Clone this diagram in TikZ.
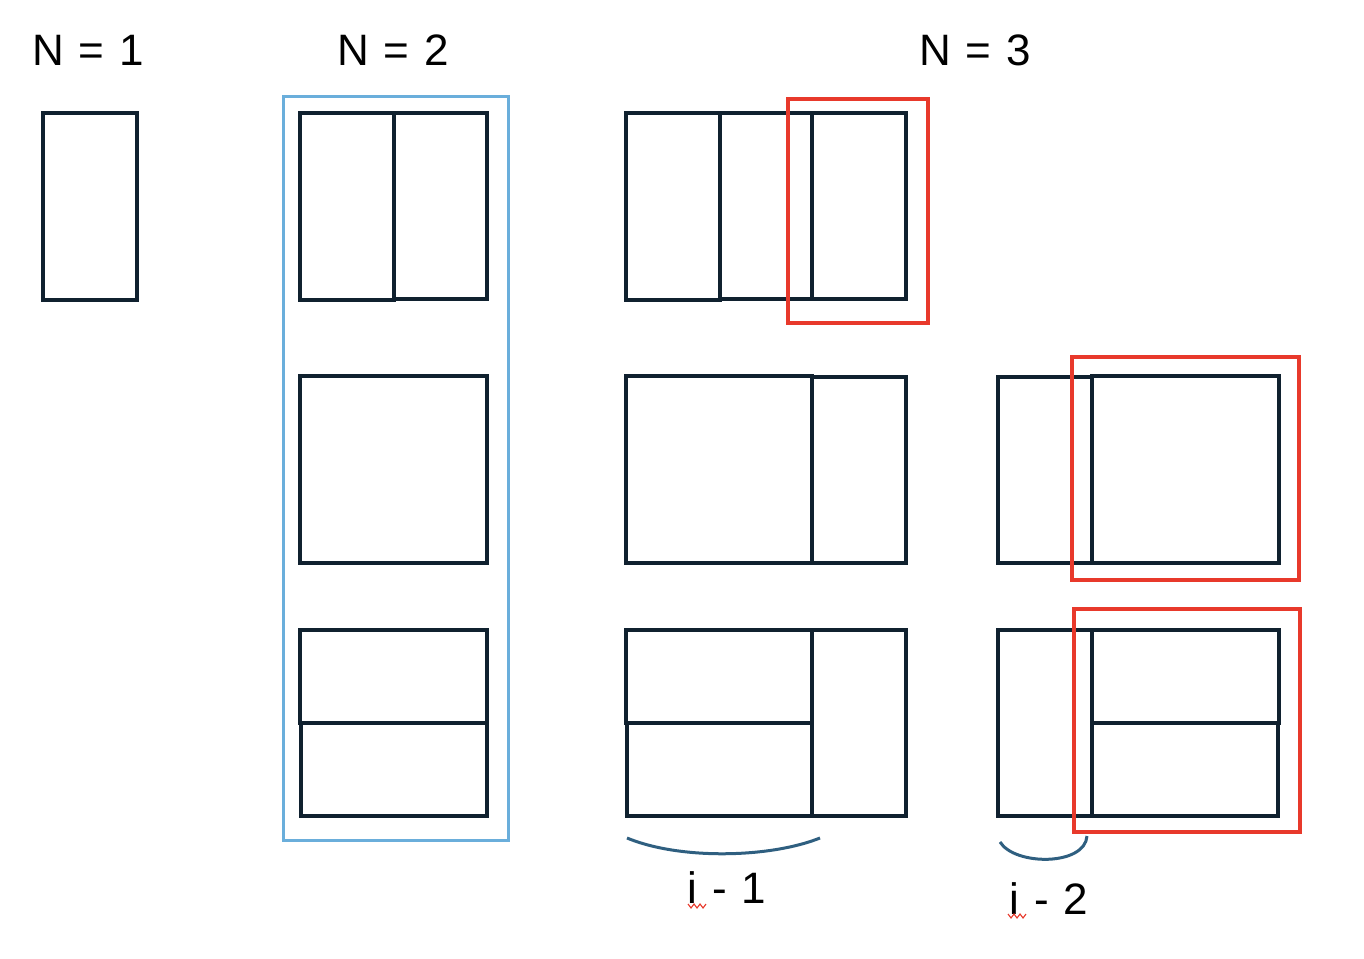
\documentclass[tikz,border=0pt]{standalone}
\usepackage{fontspec}
\setmainfont{Liberation Sans}
\newcommand{\labfont}{\fontsize{44}{48}\selectfont\spaceskip=15pt\relax}
\begin{document}
\begin{tikzpicture}[x=1pt,y=-1pt,
  cell/.style={draw=cellc,line width=3.1pt},
  redbox/.style={draw=redc,line width=3.2pt},
  bluebox/.style={draw=bluec,line width=3pt},
  brace/.style={draw=bracec,line width=3pt},
  lab/.style={font=\labfont,inner sep=0pt},
  squig/.style={draw=redc,line width=1.1pt}]
\definecolor{cellc}{HTML}{10212F}
\definecolor{redc}{HTML}{E8392B}
\definecolor{bluec}{HTML}{6AAEDB}
\definecolor{bracec}{HTML}{2F5F80}
\useasboundingbox (0,0) rectangle (1364,958);
% labels
\node[lab] (n1) at (88,50) {N = 1};
\node[lab] (n2) at (393,50) {N = 2};
\node[lab] (n3) at (975,50) {N = 3};
% N=1
\draw[cell] (43,113) rectangle (137,300);
% N=2
\draw[bluebox] (283,96) rectangle (508,840);
\draw[cell] (300,113) rectangle (394,300);
\draw[cell] (394,113) rectangle (487,299);
\draw[cell] (300,376) rectangle (487,563);
\draw[cell] (300,630) rectangle (487,723);
\draw[cell] (301,723) rectangle (487,816);
% N=3 top
\draw[cell] (626,113) rectangle (720,300);
\draw[cell] (720,113) rectangle (812,299);
\draw[cell] (812,113) rectangle (906,299);
\draw[redbox] (788,99) rectangle (928,323);
% N=3 middle
\draw[cell] (626,376) rectangle (812,563);
\draw[cell] (812,377) rectangle (906,563);
\draw[cell] (626,630) rectangle (812,723);
\draw[cell] (627,723) rectangle (812,816);
\draw[cell] (812,630) rectangle (906,816);
% right
\draw[cell] (998,377) rectangle (1092,563);
\draw[cell] (1092,376) rectangle (1279,563);
\draw[redbox] (1072,357) rectangle (1299,580);
\draw[cell] (998,630) rectangle (1092,816);
\draw[cell] (1092,630) rectangle (1279,723);
\draw[cell] (1092,723) rectangle (1278,816);
\draw[redbox] (1074,609) rectangle (1300,832);
% braces
\coordinate (b1s) at (627,838);
\coordinate (b1e) at (820,838);
\draw[brace] (b1s) .. controls (680,860) and (770,858) .. (b1e);
\coordinate (b2s) at (1000,842);
\coordinate (b2e) at (1087,836);
\draw[brace] (b2s) .. controls (1015,866) and (1085,866) .. (b2e);
% bottom labels
\node[lab,anchor=base] (i1) at (727,903) {i - 1};
\node[lab,anchor=base] (i2) at (1049,914) {i - 2};
\draw[squig] (688,904) -- (691,908) -- (694,904) -- (697,908) -- (700,904) -- (703,908) -- (706,904);
\draw[squig] (1008,914) -- (1011,918) -- (1014,914) -- (1017,918) -- (1020,914) -- (1023,918) -- (1026,914);
\end{tikzpicture}
\end{document}
